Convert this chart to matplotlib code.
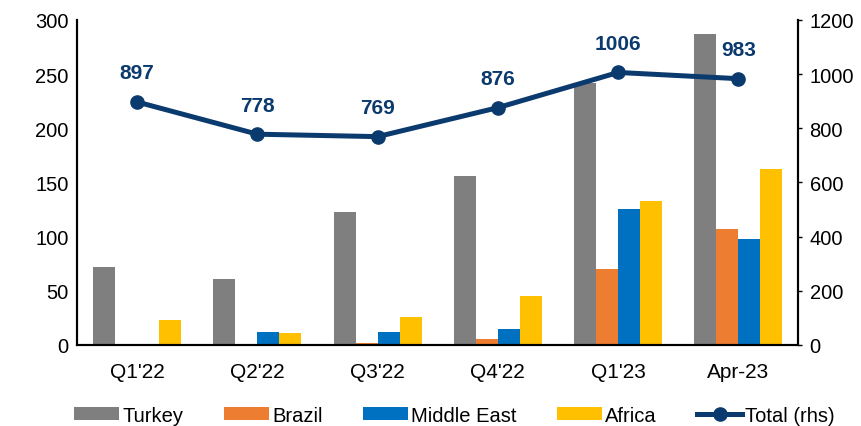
import numpy as np
import matplotlib
matplotlib.use('Agg')
import matplotlib.pyplot as plt

plt.rcParams['font.family'] = ['Liberation Sans', 'DejaVu Sans']

categories = ["Q1'22", "Q2'22", "Q3'22", "Q4'22", "Q1'23", "Apr-23"]
turkey = [72, 61, 123, 156, 242, 287]
brazil = [0, 0, 2, 5, 70, 107]
middle_east = [0, 12, 12, 15, 125, 98]
africa = [23, 11, 26, 45, 133, 162]
total = [897, 778, 769, 876, 1006, 983]

NAVY = '#0B3A6E'
series = [('Turkey', turkey, '#7F7F7F'),
          ('Brazil', brazil, '#ED7D31'),
          ('Middle East', middle_east, '#0070C0'),
          ('Africa', africa, '#FFC000')]

fig = plt.figure(figsize=(8.61, 4.27), dpi=100)
ax = fig.add_axes([0.0894, 0.19, 0.838, 0.761])
x = np.arange(len(categories))
w = 0.183
for i, (name, vals, col) in enumerate(series):
    ax.bar(x + (i - 1.5) * w, vals, width=w, color=col, label=name, zorder=2)

ax.set_xlim(-0.5, len(categories) - 0.5)
ax.set_ylim(0, 300)
ax.set_yticks(range(0, 301, 50))
ax.set_xticks(x)
ax.set_xticklabels(categories)
ax.tick_params(axis='x', length=0, pad=12, labelsize=15)
ax.tick_params(axis='y', length=0, pad=6, labelsize=14.5)
ax.spines['top'].set_visible(False)
for s in ['left', 'bottom', 'right']:
    ax.spines[s].set_linewidth(1.5)

ax2 = ax.twinx()
ax2.plot(x, total, color=NAVY, linewidth=3.6, marker='o', markersize=9.5,
         label='Total (rhs)', zorder=3)
for xi, v in zip(x, total):
    ax2.annotate(str(v), (xi, v), xytext=(0, 21), textcoords='offset points',
                 ha='center', va='center', fontsize=15, fontweight='bold', color=NAVY)
ax2.set_ylim(0, 1200)
ax2.set_yticks(range(0, 1201, 200))
ax2.tick_params(axis='y', length=3, width=1, direction='out', pad=5, labelsize=14.5)
ax2.spines['top'].set_visible(False)
for s in ['left', 'bottom', 'right']:
    ax2.spines[s].set_linewidth(1.5)

h1, l1 = ax.get_legend_handles_labels()
h2, l2 = ax2.get_legend_handles_labels()
fig.legend(h1 + h2, l1 + l2, loc='center', bbox_to_anchor=(0.528, 0.025),
           ncol=5, frameon=False, fontsize=14.5, handlelength=2.25, handleheight=0.6,
           columnspacing=2.0, handletextpad=0.15)

fig.savefig('out.png', dpi=100)
